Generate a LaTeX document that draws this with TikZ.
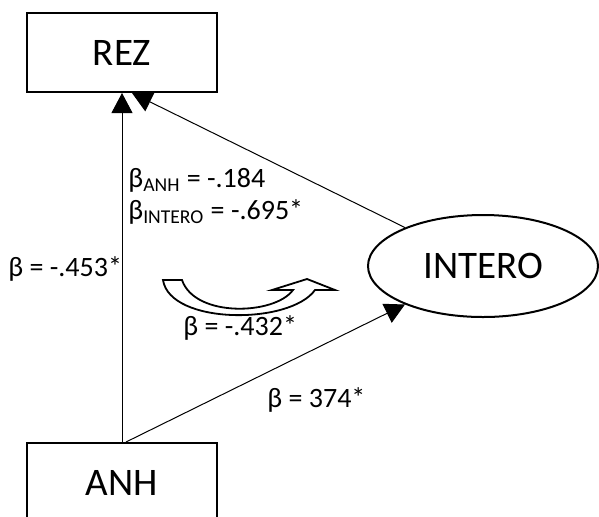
\documentclass[tikz,border=0pt]{standalone}
\usepackage{fontspec}
\setmainfont{Carlito}
\usetikzlibrary{positioning,arrows.meta,shapes.geometric}

\begin{document}
\begin{tikzpicture}[>={Triangle[length=10pt,width=10.5pt]},x=0.5pt,y=-0.5pt]
  \tikzstyle{varbox}=[draw,line width=1pt,minimum width=95pt,minimum height=39.5pt,
    font=\fontsize{19.5}{23}\selectfont]
  \tikzstyle{varoval}=[draw,ellipse,line width=1pt,minimum width=115pt,
    minimum height=51pt,font=\fontsize{19.5}{23}\selectfont]
  \tikzstyle{coef}=[anchor=base west,inner sep=0pt,
    font=\fontsize{14}{17}\selectfont]
  \useasboundingbox (0,0) rectangle (599,516);
  \node[varbox] (rez) at (122,52.5) {REZ};
  \node[varbox,below=174.5pt of rez] (anh) {ANH};
  \node[varoval] (intero) at (483,266) {INTERO};
  \draw[->,line width=0.5pt] (anh) -- (rez);
  \draw[->,line width=0.5pt] (intero) -- ([xshift=5pt]rez.south);
  \draw[->,line width=0.5pt] ([xshift=2pt]anh.north) -- (intero);
  % indirect effect arrow
  \draw[line width=0.9pt,line join=miter,fill=white] (163,280) -- (182,280)
    .. controls (195,318) and (275,315) .. (293,290) -- (272,290) -- (307,279)
    -- (335,290) -- (315,290) .. controls (290,325) and (170,325) .. (163,280)
    -- cycle;
  \node[coef] (bar) at (8,276) {β = -.453*};
  \node[coef] (banh) at (128,187) {β\textsubscript{ANH} = -.184};
  \node[coef] (bint) at (128,219) {β\textsubscript{INTERO} = -.695*};
  \node[coef] (bind) at (183,335) {β = -.432*};
  \node[coef] (bai) at (267,407) {β = 374*};
\end{tikzpicture}
\end{document}
